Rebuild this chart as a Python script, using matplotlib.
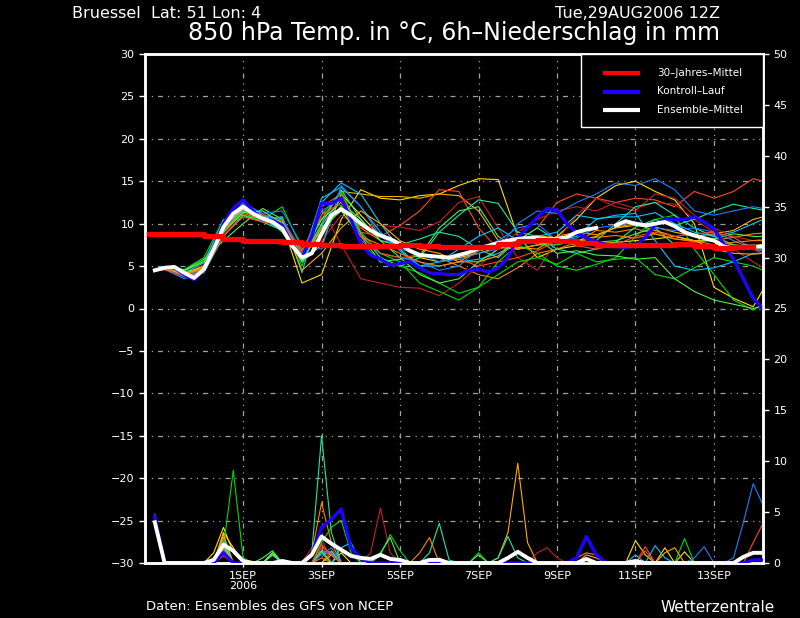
import numpy as np
import matplotlib
matplotlib.use("Agg")
import matplotlib.pyplot as plt
from matplotlib.patches import Rectangle

# time axis: hours after 29AUG2006 12Z
t6 = np.arange(6, 379, 6)
t_mem = np.r_[6, np.arange(12, 373, 12), 378]
xlim_h = (0, 378)
tick_hours = [60, 108, 156, 204, 252, 300, 348]
tick_labels = ["1SEP\n2006", "3SEP", "5SEP", "7SEP", "9SEP", "11SEP", "13SEP"]

# 30-year climatology (12h steps from 0h)
clim_t = np.arange(0, 379, 12)
clim = [8.8, 8.8, 8.8, 8.5, 8.2, 8.0, 7.9, 7.8, 7.6, 7.5, 7.4, 7.4, 7.4, 7.5, 7.4, 7.3,
        7.3, 7.3, 7.6, 7.9, 8.1, 8.0, 7.7, 7.5, 7.5, 7.5, 7.5, 7.6, 7.4, 7.1, 7.2, 7.2]

# ensemble mean and control run, 6-hourly
ens_mean = [4.5, 4.8, 4.9, 4.2, 3.6, 4.6, 7.0, 9.6, 11.2, 12.0, 11.2, 10.6, 10.2, 9.4, 7.4, 6.0,
            6.5, 8.8, 11.0, 11.7, 11.0, 10.0, 9.2, 8.6, 8.2, 7.6, 6.8, 6.3, 6.2, 6.1, 6.0, 6.3,
            6.6, 7.1, 7.4, 7.7, 8.0, 8.2, 8.3, 8.3, 8.2, 8.2, 8.4, 9.0, 9.3, 9.5, np.nan, 9.8,
            10.3, 10.0, 9.8, 10.0, 10.2, 9.7, 9.0, 8.6, 8.3, 8.0, 7.3, 7.1, 7.3, 7.3, 7.3]
control = [4.5, 4.8, 4.8, 4.0, 3.4, 4.5, 7.2, 10.0, 11.8, 12.8, 11.5, 10.5, 10.4, 9.8, 7.6, 6.0,
           8.5, 12.4, 12.4, 13.0, 10.5, 7.6, 6.3, 5.8, 5.1, 5.3, 5.5, 4.8, 4.2, 4.1, 4.0, 4.0,
           4.5, 4.6, 4.3, 4.8, 6.0, 8.4, 9.5, 10.8, 11.8, 11.6, 10.0, 8.9, 8.3, 7.9, 7.5, 7.3,
           7.2, 7.4, 8.4, 9.8, 10.6, 10.5, 10.5, 10.8, 10.2, 9.4, 7.6, 5.8, 3.5, 1.2, 0.0]

# ensemble members: 850 hPa temperature at t_mem
members = [
    [4.5, 4.8, 4.0, 4.6, 9.8, 12.2, 11.0, 10.0, 3.0, 4.0, 10.5, 14.0, 13.0, 12.8, 13.3, 13.5, 14.5,
     15.3, 15.2, 8.5, 6.0, 7.0, 7.4, 7.6, 7.8, 8.0, 8.2, 8.5, 8.0, 8.0, 7.5, 7.3, 7.6],
    [4.5, 4.8, 4.2, 5.0, 10.0, 11.8, 10.8, 10.5, 5.5, 7.5, 13.5, 11.0, 8.5, 7.5, 6.0, 5.5, 6.0,
     6.5, 7.2, 7.0, 7.5, 8.5, 10.5, 13.0, 14.5, 15.0, 13.8, 12.8, 10.0, 2.5, 1.2, 0.2, 2.2],
    [4.5, 4.7, 4.1, 4.8, 9.5, 11.6, 11.0, 10.5, 6.5, 10.5, 13.8, 13.5, 13.2, 13.2, 13.0, 13.5, 13.3,
     11.5, 8.0, 7.2, 7.0, 8.5, 9.0, 8.7, 9.5, 9.8, 9.6, 9.0, 8.5, 8.8, 9.2, 10.5, 10.8],
    [4.5, 4.6, 3.8, 4.4, 9.0, 11.4, 10.6, 10.0, 6.8, 9.0, 12.0, 9.5, 8.0, 7.4, 6.5, 6.0, 5.0,
     4.0, 3.5, 4.8, 6.5, 7.0, 7.8, 9.2, 9.0, 9.4, 8.8, 8.2, 7.9, 8.0, 8.4, 8.8, 8.9],
    [4.5, 4.7, 4.0, 4.5, 9.2, 11.5, 10.8, 10.2, 6.2, 12.0, 13.5, 9.0, 8.5, 9.8, 11.5, 14.0, 13.8,
     9.5, 7.0, 8.0, 9.5, 12.5, 13.5, 13.0, 12.5, 13.0, 12.8, 12.0, 13.8, 13.0, 13.8, 15.3, 15.0],
    [4.5, 4.6, 3.9, 4.3, 8.8, 11.0, 10.2, 9.8, 6.5, 11.8, 7.5, 3.5, 3.0, 2.5, 2.4, 1.5, 3.0,
     5.0, 7.0, 9.0, 10.5, 11.5, 12.0, 11.5, 12.5, 11.8, 12.5, 12.3, 10.5, 9.0, 7.0, 5.5, 4.8],
    [4.5, 4.8, 4.3, 5.2, 10.2, 12.0, 11.2, 10.0, 7.0, 8.0, 11.0, 9.5, 9.8, 9.6, 9.2, 10.2, 12.5,
     13.2, 9.5, 6.0, 4.5, 8.0, 11.0, 13.0, 12.0, 11.5, 13.5, 13.0, 11.0, 9.5, 8.5, 8.0, 8.2],
    [4.5, 4.9, 4.6, 6.0, 10.5, 11.0, 10.5, 12.0, 7.0, 8.5, 12.2, 7.8, 5.5, 5.0, 4.2, 3.0, 1.8,
     2.5, 4.0, 5.5, 6.0, 5.2, 6.5, 5.5, 5.8, 6.0, 4.0, 3.5, 4.8, 6.0, 5.5, 5.0, 4.5],
    [4.5, 4.8, 4.4, 5.6, 9.8, 10.8, 10.4, 10.8, 5.0, 11.0, 13.8, 9.0, 6.5, 5.5, 3.0, 2.0, 1.0,
     2.5, 5.5, 7.5, 6.5, 5.0, 4.5, 5.2, 6.0, 8.5, 10.5, 11.0, 7.0, 4.0, 1.0, -0.2, 0.5],
    [4.5, 4.8, 4.5, 5.8, 8.0, 10.0, 11.8, 10.5, 5.5, 9.5, 11.5, 8.5, 5.5, 5.8, 6.2, 9.5, 11.5,
     12.0, 8.5, 7.0, 7.5, 7.5, 8.0, 7.8, 8.0, 8.8, 9.5, 7.5, 7.8, 8.2, 8.8, 8.5, 8.5],
    [4.5, 4.7, 4.0, 4.8, 9.5, 11.6, 10.8, 9.0, 5.6, 10.0, 14.0, 10.5, 8.0, 7.5, 8.2, 9.0, 11.0,
     12.8, 12.4, 9.0, 8.5, 7.0, 6.5, 7.0, 7.8, 9.6, 10.5, 9.8, 10.5, 11.5, 12.3, 11.8, 11.6],
    [4.5, 4.6, 3.9, 4.2, 8.5, 11.0, 10.2, 9.2, 6.0, 9.8, 13.0, 8.8, 6.0, 5.0, 6.0, 9.0, 8.5,
     7.0, 6.0, 8.0, 9.5, 8.0, 7.5, 8.0, 10.0, 12.0, 12.5, 11.0, 9.5, 8.5, 7.5, 7.0, 7.0],
    [4.5, 4.8, 4.2, 5.4, 10.4, 11.5, 10.5, 10.8, 4.2, 12.5, 14.8, 13.5, 10.0, 7.0, 5.0, 5.0, 5.5,
     5.8, 6.5, 7.8, 8.2, 8.0, 8.5, 10.5, 11.0, 11.2, 8.0, 5.0, 4.5, 4.8, 5.5, 6.5, 6.5],
    [4.5, 4.7, 4.0, 4.6, 9.6, 11.6, 10.8, 10.0, 5.8, 13.0, 14.3, 12.0, 9.0, 6.8, 5.0, 5.5, 7.0,
     8.5, 9.5, 8.0, 8.5, 9.0, 11.0, 10.6, 10.8, 10.8, 11.3, 10.0, 9.0, 8.5, 9.0, 10.0, 10.5],
    [4.5, 4.7, 3.7, 4.8, 9.8, 12.4, 11.2, 11.5, 7.5, 7.0, 14.5, 12.0, 8.5, 7.0, 6.5, 5.5, 5.8,
     6.5, 7.0, 10.0, 11.5, 11.2, 12.5, 13.5, 14.8, 14.5, 15.3, 14.0, 11.5, 11.0, 11.5, 12.0, 11.8],
    [4.5, 4.6, 3.5, 4.4, 9.0, 12.6, 11.0, 10.5, 6.8, 11.5, 13.0, 8.0, 6.5, 6.0, 5.5, 4.5, 5.0,
     7.0, 8.0, 9.5, 10.0, 8.0, 8.3, 9.5, 9.8, 10.2, 9.5, 9.2, 9.5, 9.0, 8.0, 7.0, 6.8],
    [4.5, 4.8, 4.0, 4.7, 9.4, 11.2, 10.5, 9.8, 6.0, 9.5, 12.0, 8.5, 7.5, 6.5, 5.5, 5.0, 5.5,
     6.8, 7.5, 7.0, 7.5, 8.0, 7.8, 8.4, 8.6, 8.3, 8.8, 8.2, 8.0, 7.5, 7.8, 8.0, 8.0],
    [4.5, 4.7, 4.1, 4.9, 9.7, 11.7, 10.6, 10.3, 4.5, 6.5, 9.5, 11.5, 10.0, 8.0, 7.0, 6.5, 5.5,
     5.5, 6.2, 8.2, 8.6, 8.3, 8.0, 8.5, 9.6, 10.0, 9.2, 8.5, 8.0, 7.0, 6.5, 6.4, 6.5],
    [4.5, 4.9, 4.5, 5.5, 9.0, 11.3, 11.5, 10.0, 6.3, 10.5, 12.5, 10.5, 8.0, 6.0, 4.0, 3.0, 3.5,
     5.5, 7.0, 7.8, 8.2, 6.5, 6.8, 6.3, 6.2, 5.8, 6.0, 3.5, 2.0, 1.0, 0.5, 0.0, 0.3],
    [4.5, 4.6, 3.8, 4.4, 8.6, 10.8, 10.2, 10.0, 6.8, 11.0, 12.5, 8.5, 6.5, 6.0, 6.3, 6.0, 5.8,
     5.0, 5.5, 6.0, 6.8, 8.0, 7.4, 7.0, 7.5, 8.5, 9.0, 8.5, 8.8, 9.0, 8.4, 7.0, 6.5],
]
member_colors = ["#ffdd00", "#ffdd00", "#ffaa00", "#ff8000", "#ff4a20", "#c81e1e", "#c81e1e",
                 "#00dc00", "#00dc00", "#50f050", "#20e8a0", "#20e8a0", "#00c8ff", "#00c8ff",
                 "#1e7fff", "#1e7fff", "#ff8000", "#ffaa00", "#50f050", "#ff4a20"]

# 6h precipitation (mm): hour -> amount, zero at all other hours
member_rain = [
    {6: 4.2, 42: 1.0, 48: 3.5, 54: 1.0, 78: 0.8, 108: 1.0, 114: 0.8, 318: 1.5},
    {6: 3.8, 48: 3.0, 54: 1.5, 78: 1.0, 120: 1.0, 300: 2.2, 306: 0.8, 330: 1.1},
    {6: 4.0, 48: 2.5, 114: 1.2, 216: 0.5, 222: 3.0, 228: 9.8, 234: 2.0, 270: 0.8, 276: 0.5},
    {6: 4.5, 48: 1.5, 102: 1.0, 108: 5.9, 114: 2.0, 180: 0.5},
    {6: 4.4, 48: 1.2, 108: 1.5, 114: 1.0, 306: 1.6, 372: 2.0, 378: 3.9},
    {6: 4.0, 48: 0.8, 108: 2.0, 138: 1.0, 144: 5.4, 150: 1.0},
    {6: 3.9, 48: 1.0, 102: 1.5, 108: 2.5, 240: 1.0, 246: 1.5, 252: 0.5},
    {6: 4.6, 42: 0.5, 48: 1.5, 54: 9.1, 60: 0.5, 144: 0.8, 150: 2.8, 156: 1.2},
    {6: 4.3, 48: 1.0, 108: 2.0, 114: 3.5, 120: 4.2, 126: 1.0, 204: 1.0, 330: 2.4},
    {6: 4.5, 48: 2.0, 78: 1.0, 108: 1.0, 204: 0.8},
    {6: 4.2, 102: 1.0, 108: 12.5, 114: 3.0, 216: 0.5, 222: 2.6, 228: 0.5},
    {6: 4.0, 48: 1.8, 78: 0.8, 108: 1.0, 174: 1.0, 180: 3.9, 186: 0.3},
    {6: 3.7, 48: 2.2, 120: 1.5, 126: 2.0, 312: 1.7, 318: 0.5},
    {6: 4.1, 48: 1.5, 108: 1.2, 114: 1.0, 300: 0.8},
    {6: 4.8, 48: 1.3, 108: 0.8, 114: 1.5, 336: 0.5, 342: 1.6},
    {6: 4.4, 48: 0.9, 108: 1.0, 360: 0.5, 366: 4.0, 372: 7.8, 378: 5.7},
    {6: 4.2, 48: 1.4, 108: 0.5, 168: 1.0, 174: 2.5, 264: 0.5, 270: 1.0, 276: 0.8},
    {6: 3.9, 48: 2.8, 114: 0.8, 318: 1.0, 324: 1.5},
    {6: 4.0, 48: 1.7, 72: 0.5, 78: 1.2, 108: 1.2, 144: 1.0, 150: 2.5},
    {6: 4.3, 48: 0.7, 108: 1.8, 114: 0.8, 306: 1.2},
]
control_rain = {6: 4.5, 48: 1.0, 102: 0.8, 108: 3.5, 114: 4.3, 120: 5.3, 126: 1.5, 132: 0.5,
                264: 0.5, 270: 2.6, 276: 0.8, 372: 0.3, 378: 0.3}
mean_rain = {6: 4.0, 42: 0.3, 48: 1.8, 54: 1.2, 60: 0.2, 84: 0.2, 102: 0.8, 108: 2.6, 114: 1.9,
             120: 1.3, 126: 0.7, 132: 0.5, 138: 0.4, 144: 0.8, 150: 0.4, 156: 0.3, 174: 0.3,
             180: 0.3, 222: 0.5, 228: 1.1, 234: 0.5, 270: 0.4, 300: 0.2, 366: 0.6, 372: 1.0,
             378: 1.0}

legend_labels = ["30–Jahres–Mittel", "Kontroll–Lauf", "Ensemble–Mittel"]
legend_colors = ["#ff0000", "#2000ff", "white"]


def rain_series(events):
    r = np.zeros(len(t6))
    for h, v in events.items():
        r[t6 == h] = v
    return r


fig = plt.figure(figsize=(8, 6.18), dpi=100, facecolor="black")
ax = fig.add_axes([145 / 800, 55 / 618, 618 / 800, 509 / 618], facecolor="black")
ax2 = ax.twinx()

ax.set_xlim(*xlim_h)
ax.set_ylim(-30, 30)
ax2.set_ylim(0, 50)

grid_kw = dict(color="#a0a0a0", lw=0.9, dashes=(1, 4, 1, 4, 4, 4), zorder=0.5)
for y in range(-25, 30, 5):
    ax.axhline(y, **grid_kw)
for h in tick_hours:
    ax.axvline(h, **grid_kw)

for vals, col in zip(members, member_colors):
    ax.plot(t_mem, vals, color=col, lw=0.8, zorder=2)
ax.plot(t6, control, color="#2000ff", lw=2.4, zorder=3)
ax.plot(t6, ens_mean, color="white", lw=2.8, zorder=4)
ax.step(clim_t, clim, where="post", color="#ff0000", lw=3.8, zorder=5)

for ev, col in zip(member_rain, member_colors):
    ax2.plot(t6, rain_series(ev), color=col, lw=0.8, zorder=2)
ax2.plot(t6, rain_series(control_rain), color="#2000ff", lw=2.4, zorder=3)
ax2.plot(t6, rain_series(mean_rain), color="white", lw=2.8, zorder=4)

ax.set_xticks(tick_hours)
ax.set_xticklabels(tick_labels, color="white", fontsize=7.5, linespacing=1.0)
ax.set_yticks(range(-30, 31, 5))
ax2.set_yticks(range(0, 51, 5))
for a in (ax, ax2):
    a.tick_params(colors="white", labelcolor="white", labelsize=8, length=4, width=1)
    for s in a.spines.values():
        s.set_color("white")
        s.set_linewidth(1.8)
ax.tick_params(axis="x", length=3, pad=3)

# legend box in the upper right corner
box_x0, box_y0 = (581 - 145) / 618, (563 - 127) / 509
ax2.add_patch(Rectangle((box_x0, box_y0), 1 - box_x0, 1 - box_y0, transform=ax2.transAxes,
                        facecolor="black", edgecolor="white", lw=1.0, zorder=10, clip_on=False))
for i, (lab, col) in enumerate(zip(legend_labels, legend_colors)):
    yy = (563 - (73 + 18.5 * i)) / 509
    ax2.plot([(603 - 145) / 618, (640 - 145) / 618], [yy, yy], color=col, lw=3,
             transform=ax2.transAxes, zorder=11, solid_capstyle="butt")
    ax2.text((657 - 145) / 618, yy, lab, color="white", fontsize=7.5, va="center", ha="left",
             transform=ax2.transAxes, zorder=11)

fig.text(72 / 800, 1 - 13 / 618, "Bruessel  Lat: 51 Lon: 4", color="white",
         fontsize=11.5, va="center", ha="left")
fig.text(720 / 800, 1 - 13 / 618, "Tue,29AUG2006 12Z", color="white",
         fontsize=11.5, va="center", ha="right")
fig.text(454 / 800, 1 - 33 / 618, "850 hPa Temp. in °C, 6h–Niederschlag in mm", color="white",
         fontsize=17, va="center", ha="center")
fig.text(146 / 800, 1 - 607 / 618, "Daten: Ensembles des GFS von NCEP", color="white",
         fontsize=9.5, va="center", ha="left")
fig.text(775 / 800, 1 - 607 / 618, "Wetterzentrale", color="white",
         fontsize=11, va="center", ha="right")

fig.savefig("out.png", dpi=100, facecolor="black")
